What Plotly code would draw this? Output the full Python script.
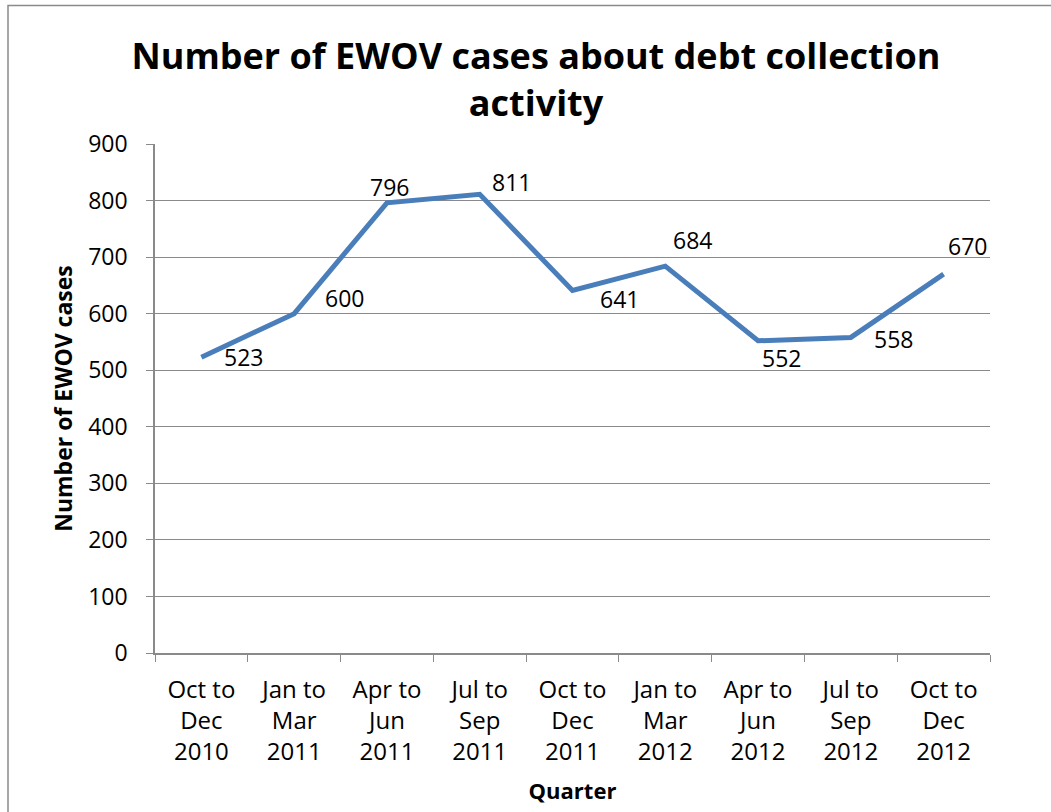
import plotly.graph_objects as go

quarters = ["Oct to<br>Dec<br>2010", "Jan to<br>Mar<br>2011", "Apr to<br>Jun<br>2011",
            "Jul to<br>Sep<br>2011", "Oct to<br>Dec<br>2011", "Jan to<br>Mar<br>2012",
            "Apr to<br>Jun<br>2012", "Jul to<br>Sep<br>2012", "Oct to<br>Dec<br>2012"]
cases = [523, 600, 796, 811, 641, 684, 552, 558, 670]
# data-label pixel offsets (dx right, dy up) relative to each point
label_dx = [42, 50, 3, 32, 47, 27, 23, 43, 24]
label_dy = [0, 16, 16, 12, -9, 26, -17, -2, 28]

FONT = "Open Sans"
GRAY = "#8a8a8a"
FS = 23

fig = go.Figure()
fig.add_trace(go.Scatter(
    x=quarters, y=cases, mode="lines",
    line=dict(color="#4A7EBB", width=5),
    hoverinfo="skip", showlegend=False,
))
for q, v, dx, dy in zip(quarters, cases, label_dx, label_dy):
    fig.add_annotation(x=q, y=v, xref="x", yref="y", text=str(v), showarrow=False,
                       xshift=dx, yshift=dy,
                       font=dict(family=FONT, size=FS, color="black"))

fig.update_layout(
    width=1051, height=812,
    margin=dict(l=155, r=61, t=144, b=159),
    paper_bgcolor="white", plot_bgcolor="white",
    font=dict(family=FONT, color="black"),
    title=dict(text="<b>Number of EWOV cases about debt collection<br>activity</b>",
               x=0.51, xanchor="center", y=0.915, yanchor="top",
               font=dict(family=FONT, size=36, color="black")),
    xaxis=dict(
        type="category", categoryorder="array", categoryarray=quarters,
        range=[-0.5, len(quarters) - 0.5], showgrid=False,
        showline=True, linecolor=GRAY, linewidth=1.5,
        ticks="outside", tickson="boundaries", ticklen=7, tickcolor=GRAY,
        tickfont=dict(family=FONT, size=24), zeroline=False, ticklabelstandoff=14,
        title=dict(text="<b>Quarter</b>", font=dict(family=FONT, size=22), standoff=18),
    ),
    yaxis=dict(
        range=[0, 900], tickvals=list(range(0, 901, 100)),
        showgrid=True, gridcolor=GRAY, gridwidth=1,
        showline=True, linecolor=GRAY, linewidth=1.5,
        ticks="outside", ticklen=7, tickcolor=GRAY,
        tickfont=dict(family=FONT, size=FS), zeroline=False, ticklabelstandoff=14,
        title=dict(text="<b>Number of EWOV cases</b>", font=dict(family=FONT, size=23), standoff=9),
    ),
)

# chart border (outer frame)
fig.add_shape(type="rect", xref="paper", yref="paper",
              x0=(8 - 155) / 835, x1=(1070 - 155) / 835,
              y0=(653 - 830) / 509, y1=(653 - 5.5) / 509,
              line=dict(color=GRAY, width=1.5), layer="below")

fig.write_html("out.html")
